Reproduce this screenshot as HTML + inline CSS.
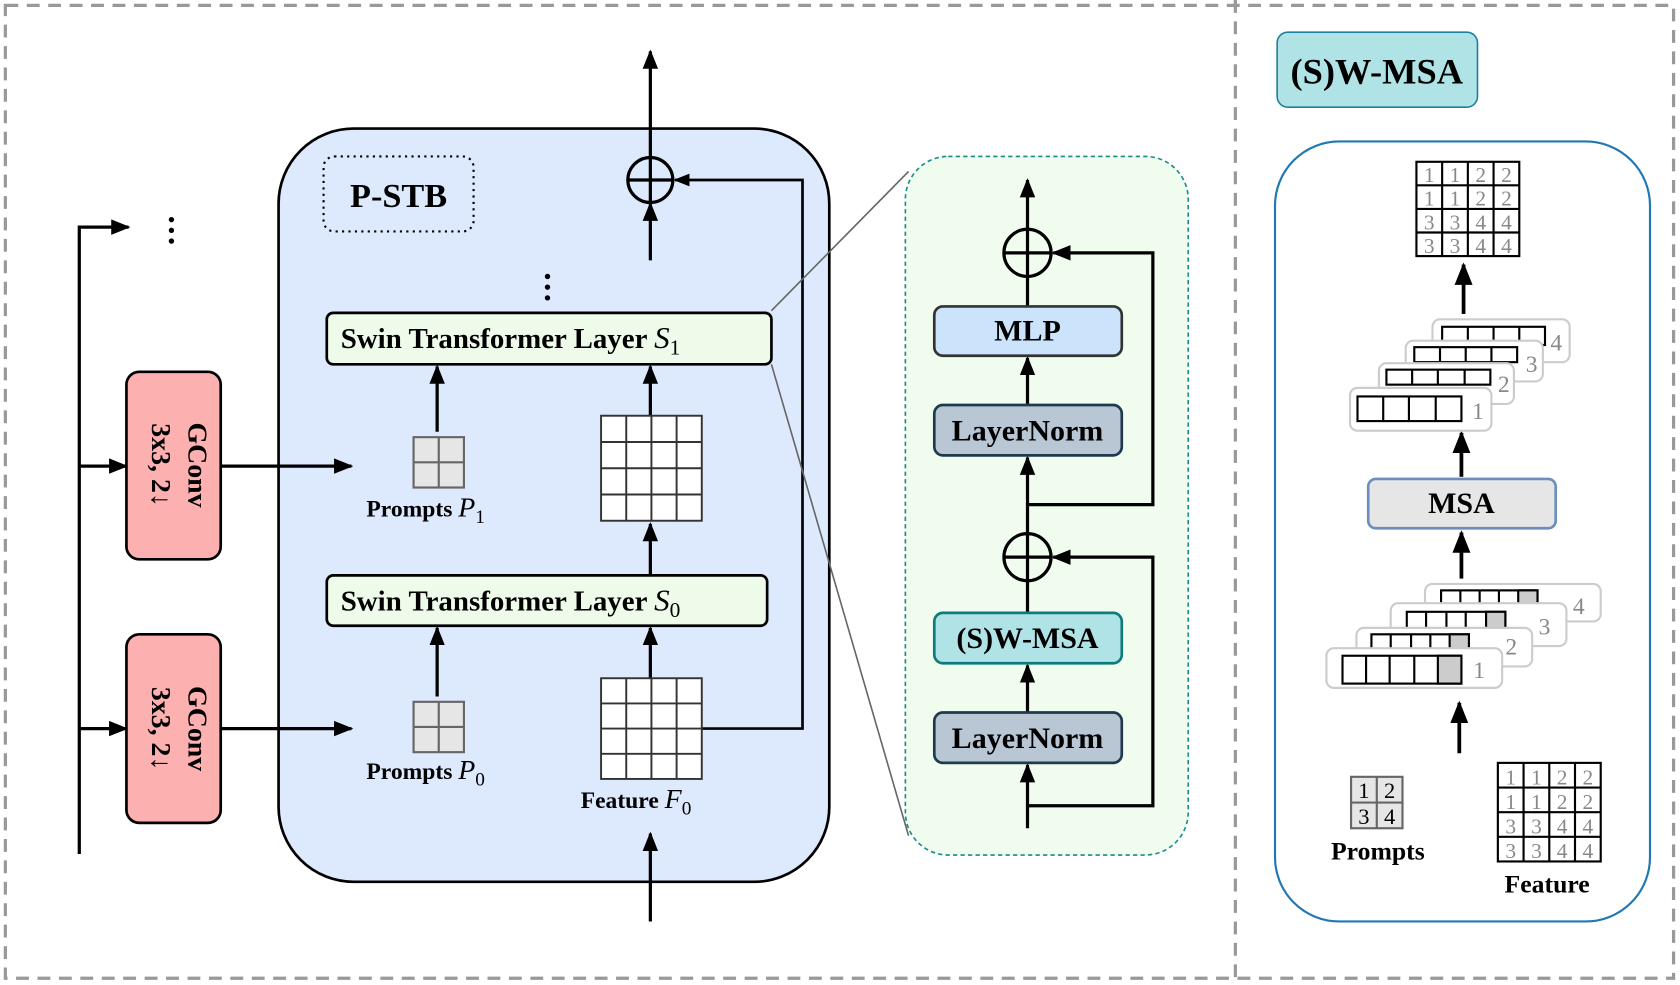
<!DOCTYPE html>
<html><head><meta charset="utf-8"><style>html,body{margin:0;padding:0;background:#fff}svg{display:block}
text{font-family:"Liberation Serif",serif}</style></head><body>
<svg width="1680" height="985" viewBox="0 0 1568 919.3" preserveAspectRatio="none" xmlns="http://www.w3.org/2000/svg">
<defs>
<marker id="a" viewBox="0 0 10 10" refX="9" refY="5" markerWidth="6" markerHeight="6" orient="auto-start-reverse"><path d="M0,1 L10,5 L0,9 z" fill="#000"/></marker>
</defs>
<rect x="5" y="5" width="1557" height="908" fill="none" stroke="#999" stroke-width="3" stroke-dasharray="12,8"/>
<line x1="1153" y1="0" x2="1153" y2="913" stroke="#999" stroke-width="3" stroke-dasharray="12,8"/>

<!-- P-STB -->
<rect x="260" y="120" width="514" height="703" rx="70" fill="#dde9fc" stroke="#000" stroke-width="2.5"/>

<!-- left trunk -->
<g stroke="#000" stroke-width="3" fill="none">
<polyline points="74,797 74,212 120,212" marker-end="url(#a)"/>
<line x1="74" y1="435" x2="118" y2="435" marker-end="url(#a)"/>
<line x1="74" y1="680" x2="118" y2="680" marker-end="url(#a)"/>
<line x1="206" y1="435" x2="328" y2="435" marker-end="url(#a)"/>
<line x1="206" y1="680" x2="328" y2="680" marker-end="url(#a)"/>
</g>
<g fill="#000"><circle cx="160" cy="205" r="2.5"/><circle cx="160" cy="215" r="2.5"/><circle cx="160" cy="225" r="2.5"/></g>
<rect x="118" y="347" width="88" height="175" rx="12" fill="#fdb0b0" stroke="#000" stroke-width="2.5"/>
<rect x="118" y="592" width="88" height="176" rx="12" fill="#fdb0b0" stroke="#000" stroke-width="2.5"/>
<g font-weight="bold" font-size="26">
<text transform="translate(176,434) rotate(90)" text-anchor="middle">GConv</text>
<text transform="translate(142,434) rotate(90)" text-anchor="middle">3x3, 2↓</text>
<text transform="translate(176,680) rotate(90)" text-anchor="middle">GConv</text>
<text transform="translate(142,680) rotate(90)" text-anchor="middle">3x3, 2↓</text>
</g>

<rect x="302" y="146" width="140" height="70" rx="10" fill="none" stroke="#000" stroke-width="2" stroke-dasharray="2,4"/>
<text x="372" y="193" font-size="32" font-weight="bold" text-anchor="middle">P-STB</text>
<g stroke="#000" stroke-width="3" fill="none">
<line x1="607" y1="147" x2="607" y2="48" marker-end="url(#a)"/>
<line x1="607" y1="243" x2="607" y2="190" marker-end="url(#a)"/>
<circle cx="607" cy="168" r="21"/><line x1="586" y1="168" x2="628" y2="168"/><line x1="607" y1="147" x2="607" y2="189"/>
<polyline points="655,680 749,680 749,168 630,168" marker-end="url(#a)" stroke-width="2.5"/>
<line x1="408" y1="403" x2="408" y2="342" marker-end="url(#a)"/>
<line x1="607" y1="388" x2="607" y2="342" marker-end="url(#a)"/>
<line x1="607" y1="537" x2="607" y2="489" marker-end="url(#a)"/>
<line x1="408" y1="650" x2="408" y2="586" marker-end="url(#a)"/>
<line x1="607" y1="633" x2="607" y2="586" marker-end="url(#a)"/>
<line x1="607" y1="860" x2="607" y2="778" marker-end="url(#a)"/>
</g>
<g fill="#000"><circle cx="511" cy="258" r="2.5"/><circle cx="511" cy="268" r="2.5"/><circle cx="511" cy="278" r="2.5"/></g>
<line x1="720" y1="290" x2="848" y2="160" stroke="#666" stroke-width="1.5"/>
<line x1="720" y1="340" x2="848" y2="780" stroke="#666" stroke-width="1.5"/>
<rect x="305" y="292" width="415" height="48" rx="6" fill="#eefbea" stroke="#000" stroke-width="2.5"/>
<text x="318" y="325" font-size="27" font-weight="bold">Swin Transformer Layer <tspan font-style="italic" font-weight="normal" font-size="29">S</tspan><tspan font-size="20" font-weight="normal" dy="6">1</tspan></text>
<rect x="305" y="537" width="411" height="47" rx="6" fill="#eefbea" stroke="#000" stroke-width="2.5"/>
<text x="318" y="570" font-size="27" font-weight="bold">Swin Transformer Layer <tspan font-style="italic" font-weight="normal" font-size="29">S</tspan><tspan font-size="20" font-weight="normal" dy="6">0</tspan></text>
<g stroke="#666" stroke-width="2" fill="#e6e6e6">
<rect x="386" y="408" width="47" height="47"/><line x1="409.5" y1="408" x2="409.5" y2="455"/><line x1="386" y1="431.5" x2="433" y2="431.5"/>
<rect x="386" y="655" width="47" height="47"/><line x1="409.5" y1="655" x2="409.5" y2="702"/><line x1="386" y1="678.5" x2="433" y2="678.5"/>
</g>
<g stroke="#333" stroke-width="1.8" fill="#fff">
<rect x="561" y="388" width="94" height="98"/>
<path d="M584.5,388V486M608,388V486M631.5,388V486M561,412.5H655M561,437H655M561,461.5H655"/>
<rect x="561" y="633" width="94" height="94"/>
<path d="M584.5,633V727M608,633V727M631.5,633V727M561,656.5H655M561,680H655M561,703.5H655"/>
</g>
<text x="342" y="482" font-size="22" font-weight="bold">Prompts  <tspan font-style="italic" font-weight="normal" font-size="26">P</tspan><tspan font-size="18" font-weight="normal" dy="6">1</tspan></text>
<text x="342" y="727" font-size="22" font-weight="bold">Prompts  <tspan font-style="italic" font-weight="normal" font-size="26">P</tspan><tspan font-size="18" font-weight="normal" dy="6">0</tspan></text>
<text x="542" y="754" font-size="22" font-weight="bold">Feature <tspan font-style="italic" font-weight="normal" font-size="26">F</tspan><tspan font-size="18" font-weight="normal" dy="6">0</tspan></text>

<!-- green panel -->
<rect x="845" y="146" width="264" height="652" rx="40" fill="#f0fcee" stroke="#1a8a8a" stroke-width="1.5" stroke-dasharray="4,3"/>
<g stroke="#000" stroke-width="3" fill="none">
<line x1="959" y1="214" x2="959" y2="168" marker-end="url(#a)"/>
<circle cx="959" cy="236" r="22"/><line x1="937" y1="236" x2="981" y2="236"/><line x1="959" y1="214" x2="959" y2="286"/>
<polyline points="959,471 1076,471 1076,236 983,236" marker-end="url(#a)"/>
<line x1="959" y1="378" x2="959" y2="334" marker-end="url(#a)"/>
<line x1="959" y1="498" x2="959" y2="427" marker-end="url(#a)"/>
<circle cx="959" cy="520" r="22"/><line x1="937" y1="520" x2="981" y2="520"/><line x1="959" y1="498" x2="959" y2="572"/>
<polyline points="959,752 1076,752 1076,520 983,520" marker-end="url(#a)"/>
<line x1="959" y1="665" x2="959" y2="621" marker-end="url(#a)"/>
<line x1="959" y1="773" x2="959" y2="714" marker-end="url(#a)"/>
</g>
<g stroke-width="2.5" font-size="28" font-weight="bold" text-anchor="middle">
<rect x="872" y="286" width="175" height="46" rx="8" fill="#cce4fb" stroke="#333"/>
<text x="959" y="318">MLP</text>
<rect x="872" y="378" width="175" height="47" rx="8" fill="#b9c7d4" stroke="#1f3a4f"/>
<text x="959" y="411">LayerNorm</text>
<rect x="872" y="572" width="175" height="47" rx="8" fill="#b0e3e6" stroke="#0e7c7c"/>
<text x="959" y="605">(S)W-MSA</text>
<rect x="872" y="665" width="175" height="47" rx="8" fill="#b9c7d4" stroke="#1f3a4f"/>
<text x="959" y="698">LayerNorm</text>
</g>

<!-- right panel -->
<rect x="1192" y="30" width="187" height="70" rx="10" fill="#b0e3e6" stroke="#1f7fa0" stroke-width="1.5"/>
<text x="1285" y="78" font-size="34" font-weight="bold" text-anchor="middle">(S)W-MSA</text>
<rect x="1190" y="132" width="350" height="728" rx="60" fill="#fff" stroke="#1f77b4" stroke-width="2"/>
<g stroke="#000" stroke-width="2" fill="#fff">
<rect x="1322" y="151" width="96" height="88"/>
<path d="M1346,151V239M1370,151V239M1394,151V239M1322,173H1418M1322,195H1418M1322,217H1418"/>
</g>
<g font-size="20" fill="#888" text-anchor="middle">
<text x="1334" y="170">1</text><text x="1358" y="170">1</text><text x="1382" y="170">2</text><text x="1406" y="170">2</text>
<text x="1334" y="192">1</text><text x="1358" y="192">1</text><text x="1382" y="192">2</text><text x="1406" y="192">2</text>
<text x="1334" y="214">3</text><text x="1358" y="214">3</text><text x="1382" y="214">4</text><text x="1406" y="214">4</text>
<text x="1334" y="236">3</text><text x="1358" y="236">3</text><text x="1382" y="236">4</text><text x="1406" y="236">4</text>
</g>
<g stroke="#000" stroke-width="3.5" fill="none">
<line x1="1366" y1="293" x2="1366" y2="247" marker-end="url(#a)"/>
<line x1="1364" y1="445" x2="1364" y2="404" marker-end="url(#a)"/>
<line x1="1364" y1="540" x2="1364" y2="497" marker-end="url(#a)"/>
<line x1="1362" y1="703" x2="1362" y2="656" marker-end="url(#a)"/>
</g>
<!-- upper stack -->
<g stroke-width="2">
<rect x="1337" y="298" width="128" height="40" rx="7" fill="#fff" stroke="#ccc"/>
<rect x="1346" y="305" width="96" height="17" fill="#fff" stroke="#000"/><path d="M1370,305V322M1394,305V322M1418,305V322" stroke="#000"/>
<rect x="1312" y="318" width="128" height="38" rx="7" fill="#fff" stroke="#ccc"/>
<rect x="1320" y="324" width="96" height="14" fill="#fff" stroke="#000"/><path d="M1344,324V338M1368,324V338M1392,324V338" stroke="#000"/>
<rect x="1287" y="339" width="126" height="38" rx="7" fill="#fff" stroke="#ccc"/>
<rect x="1294" y="345" width="97" height="14" fill="#fff" stroke="#000"/><path d="M1318,345V359M1342,345V359M1367,345V359" stroke="#000"/>
<rect x="1260" y="362" width="132" height="40" rx="7" fill="#fff" stroke="#ccc"/>
<rect x="1267" y="370" width="97" height="23" fill="#fff" stroke="#000"/><path d="M1291,370V393M1315,370V393M1340,370V393" stroke="#000"/>
</g>
<g font-size="22" fill="#888">
<text x="1447" y="327">4</text><text x="1424" y="347">3</text><text x="1398" y="366">2</text><text x="1374" y="391">1</text>
</g>
<rect x="1277" y="447" width="175" height="46" rx="7" fill="#e6e6e6" stroke="#6c8ebf" stroke-width="2.5"/>
<text x="1364" y="479" font-size="28" font-weight="bold" text-anchor="middle">MSA</text>
<!-- lower stack -->
<g stroke-width="2">
<rect x="1330" y="545" width="164" height="35" rx="7" fill="#fff" stroke="#ccc"/>
<rect x="1345" y="551" width="90" height="17" fill="#fff" stroke="#000"/><rect x="1417" y="551" width="18" height="17" fill="#ccc" stroke="#000"/><path d="M1363,551V568M1381,551V568M1399,551V568" stroke="#000"/>
<rect x="1298" y="563" width="164" height="40" rx="7" fill="#fff" stroke="#ccc"/>
<rect x="1313" y="571" width="92" height="17" fill="#fff" stroke="#000"/><rect x="1387" y="571" width="18" height="17" fill="#ccc" stroke="#000"/><path d="M1331,571V588M1350,571V588M1368,571V588" stroke="#000"/>
<rect x="1266" y="586" width="164" height="36" rx="7" fill="#fff" stroke="#ccc"/>
<rect x="1280" y="592" width="91" height="14" fill="#fff" stroke="#000"/><rect x="1353" y="592" width="18" height="14" fill="#ccc" stroke="#000"/><path d="M1298,592V606M1317,592V606M1335,592V606" stroke="#000"/>
<rect x="1238" y="605" width="164" height="37" rx="7" fill="#fff" stroke="#ccc"/>
<rect x="1253" y="612" width="111" height="26" fill="#fff" stroke="#000"/><rect x="1342" y="612" width="22" height="26" fill="#ccc" stroke="#000"/><path d="M1275,612V638M1297,612V638M1320,612V638" stroke="#000"/>
</g>
<g font-size="22" fill="#888">
<text x="1468" y="573">4</text><text x="1436" y="592">3</text><text x="1405" y="611">2</text><text x="1375" y="633">1</text>
</g>
<!-- inputs -->
<g stroke="#666" stroke-width="2" fill="#e6e6e6">
<rect x="1261" y="725" width="48" height="48"/><path d="M1285,725V773M1261,749H1309"/>
</g>
<g font-size="21" fill="#000" text-anchor="middle">
<text x="1273" y="745">1</text><text x="1297" y="745">2</text><text x="1273" y="769">3</text><text x="1297" y="769">4</text>
</g>
<g stroke="#000" stroke-width="2" fill="#fff">
<rect x="1398" y="712" width="96" height="92"/>
<path d="M1422,712V804M1446,712V804M1470,712V804M1398,735H1494M1398,758H1494M1398,781H1494"/>
</g>
<g font-size="20" fill="#888" text-anchor="middle">
<text x="1410" y="732">1</text><text x="1434" y="732">1</text><text x="1458" y="732">2</text><text x="1482" y="732">2</text>
<text x="1410" y="755">1</text><text x="1434" y="755">1</text><text x="1458" y="755">2</text><text x="1482" y="755">2</text>
<text x="1410" y="778">3</text><text x="1434" y="778">3</text><text x="1458" y="778">4</text><text x="1482" y="778">4</text>
<text x="1410" y="801">3</text><text x="1434" y="801">3</text><text x="1458" y="801">4</text><text x="1482" y="801">4</text>
</g>
<text x="1286" y="802" font-size="24" font-weight="bold" text-anchor="middle">Prompts</text>
<text x="1444" y="833" font-size="24" font-weight="bold" text-anchor="middle">Feature</text>
</svg>
</body></html>
